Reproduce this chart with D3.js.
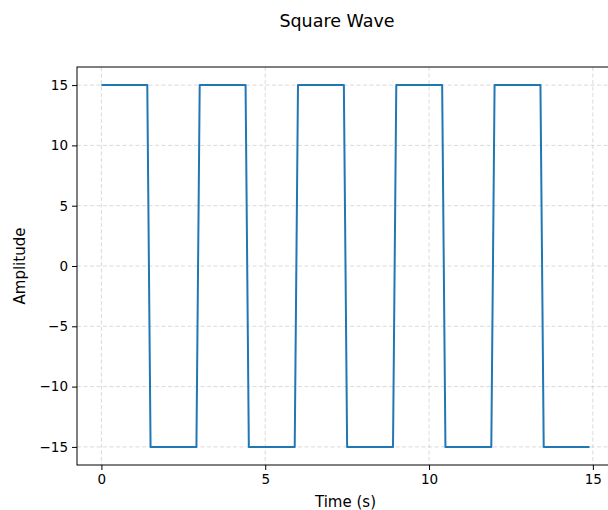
<!DOCTYPE html>
<html>
<head>
  <title>Square Wave</title>
  <script src="https://d3js.org/d3.v7.min.js"></script>
  <style>
    body { margin: 0; background: #fff; }
    text { font-family: "DejaVu Sans", sans-serif; fill: #000; }
  </style>
</head>
<body>
<script type="text/javascript">
// corner points of the sampled square wave (t step 0.1)
var time = [0, 1.4, 1.5, 2.9, 3.0, 4.4, 4.5, 5.9, 6.0, 7.4, 7.5, 8.9, 9.0, 10.4, 10.5, 11.9, 12.0, 13.4, 13.5, 14.9];
var amplitude = [15, 15, -15, -15, 15, 15, -15, -15, 15, 15, -15, -15, 15, 15, -15, -15, 15, 15, -15, -15];
var xTicks = [0, 5, 10, 15];
var yTicks = [-15, -10, -5, 0, 5, 10, 15];

var W = 608, H = 510;
var margin = {top: 67, left: 77, bottom: 45, right: -6};
var width = W - margin.left - margin.right,
    height = H - margin.top - margin.bottom;

var svg = d3.select("body").append("svg")
    .attr("width", W)
    .attr("height", H);

var g = svg.append("g")
    .attr("transform", "translate(" + margin.left + "," + margin.top + ")");

var xr = d3.extent(time), yr = d3.extent(amplitude);
var xpad = (xr[1] - xr[0]) * 0.05, ypad = (yr[1] - yr[0]) * 0.05;
var x = d3.scaleLinear().domain([xr[0] - xpad, xr[1] + xpad]).range([0, width]);
var y = d3.scaleLinear().domain([yr[0] - ypad, yr[1] + ypad]).range([height, 0]);

//grid
g.append("g").selectAll("line").data(xTicks).enter().append("line")
    .attr("x1", function(d){ return x(d); }).attr("x2", function(d){ return x(d); })
    .attr("y1", 0).attr("y2", height)
    .attr("stroke", "#b0b0b0").attr("stroke-opacity", 0.6)
    .attr("stroke-width", 0.8).attr("stroke-dasharray", "4,2.5");
g.append("g").selectAll("line").data(yTicks).enter().append("line")
    .attr("y1", function(d){ return y(d); }).attr("y2", function(d){ return y(d); })
    .attr("x1", 0).attr("x2", width)
    .attr("stroke", "#b0b0b0").attr("stroke-opacity", 0.6)
    .attr("stroke-width", 0.8).attr("stroke-dasharray", "4,2.5");

//line
var line = d3.line()
    .x(function(d, i){ return x(time[i]); })
    .y(function(d){ return y(d); });
g.append("path")
    .datum(amplitude)
    .attr("d", line)
    .attr("fill", "none")
    .attr("stroke", "#1f77b4")
    .attr("stroke-width", 2)
    .attr("stroke-linejoin", "round");

//axes
var fmt = function(d){ return d < 0 ? "\u2212" + Math.abs(d) : "" + d; };
var xAxis = g.append("g")
    .attr("transform", "translate(0," + height + ")")
    .call(d3.axisBottom(x).tickValues(xTicks).tickFormat(fmt).tickSize(5).tickPadding(4));
var yAxis = g.append("g")
    .call(d3.axisLeft(y).tickValues(yTicks).tickFormat(fmt).tickSize(5).tickPadding(4));
[xAxis, yAxis].forEach(function(a){
  a.select(".domain").remove();
  a.selectAll(".tick line").attr("stroke", "#000").attr("stroke-width", 1);
  a.selectAll(".tick text").style("font-size", "13.5px").style("font-family", "DejaVu Sans").attr("fill", "#000");
});

//spines
g.append("rect")
    .attr("width", width).attr("height", height)
    .attr("fill", "none").attr("stroke", "#000").attr("stroke-width", 1);

//labels
svg.append("text")
    .attr("x", 337).attr("y", 27)
    .attr("text-anchor", "middle")
    .style("font-size", "17.5px")
    .text("Square Wave");
svg.append("text")
    .attr("x", margin.left + width / 2).attr("y", 507)
    .attr("text-anchor", "middle")
    .style("font-size", "15px")
    .text("Time (s)");
svg.append("text")
    .attr("transform", "translate(25," + (margin.top + height / 2) + ") rotate(-90)")
    .attr("text-anchor", "middle")
    .style("font-size", "15px")
    .text("Amplitude");
</script>
</body>
</html>
